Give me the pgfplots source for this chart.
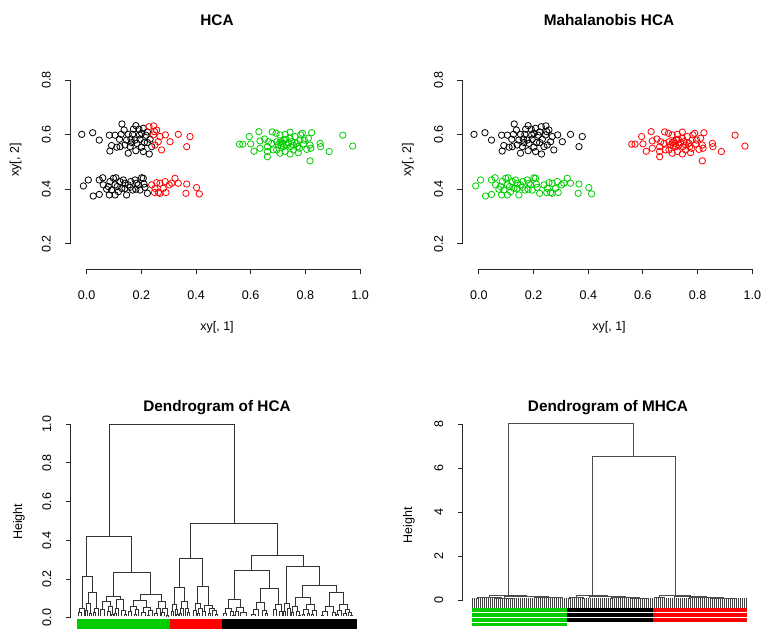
\documentclass[border=0pt]{standalone}
\usepackage{fontspec}
\setmainfont{Liberation Sans}
\usepackage{pgfplots}
\usepackage{pgfplotstable}
\pgfplotsset{compat=1.18}
\definecolor{rgreen}{HTML}{00CD00}
\definecolor{rred}{HTML}{FF0000}

% upper-left group, left part
\pgfplotstableread{
x y
-0.018 0.601
0.022 0.607
0.046 0.580
0.083 0.598
0.104 0.598
0.129 0.639
0.137 0.617
0.152 0.601
0.162 0.584
0.180 0.633
0.191 0.620
0.201 0.605
0.168 0.601
0.177 0.580
0.195 0.583
0.217 0.598
0.222 0.610
0.091 0.560
0.110 0.554
0.122 0.556
0.085 0.540
0.152 0.532
0.180 0.541
0.159 0.556
0.201 0.554
0.207 0.538
0.222 0.571
0.232 0.583
0.229 0.529
0.238 0.556
0.183 0.568
0.146 0.580
0.211 0.571
0.126 0.601
0.140 0.562
0.165 0.571
0.193 0.599
0.120 0.583
0.207 0.623
0.171 0.620
}\ulblack
% upper-left group, right part
\pgfplotstableread{
x y
0.228 0.629
0.245 0.632
0.256 0.617
0.244 0.599
0.268 0.593
0.288 0.599
0.305 0.574
0.335 0.601
0.378 0.593
0.366 0.556
0.274 0.544
0.248 0.611
0.262 0.574
0.250 0.562
}\ulred
% lower-left group, left part
\pgfplotstableread{
x y
0.006 0.434
-0.012 0.412
0.024 0.375
0.046 0.381
0.059 0.442
0.061 0.416
0.079 0.410
0.085 0.428
0.098 0.440
0.107 0.442
0.112 0.410
0.122 0.428
0.134 0.434
0.140 0.403
0.146 0.379
0.152 0.416
0.161 0.428
0.168 0.397
0.177 0.434
0.189 0.416
0.201 0.442
0.207 0.440
0.213 0.407
0.222 0.385
0.083 0.379
0.104 0.379
0.073 0.400
0.091 0.397
0.180 0.400
0.195 0.397
0.128 0.403
0.046 0.434
0.116 0.391
0.159 0.407
0.183 0.422
0.140 0.422
0.104 0.416
0.210 0.419
}\llblack
% lower-left group, right part
\pgfplotstableread{
x y
0.238 0.416
0.250 0.403
0.248 0.388
0.262 0.388
0.268 0.422
0.280 0.403
0.290 0.388
0.287 0.428
0.302 0.416
0.311 0.422
0.323 0.440
0.335 0.422
0.366 0.419
0.363 0.385
0.402 0.406
0.412 0.383
0.268 0.385
0.256 0.424
}\llred
% right group
\pgfplotstableread{
x y
0.559 0.565
0.571 0.565
0.595 0.593
0.600 0.566
0.612 0.539
0.630 0.611
0.634 0.577
0.651 0.584
0.661 0.556
0.661 0.538
0.661 0.519
0.679 0.610
0.693 0.605
0.695 0.574
0.701 0.562
0.707 0.571
0.713 0.574
0.717 0.568
0.722 0.580
0.726 0.601
0.732 0.562
0.738 0.571
0.744 0.609
0.746 0.556
0.750 0.574
0.756 0.562
0.762 0.593
0.771 0.556
0.774 0.534
0.778 0.550
0.783 0.599
0.789 0.605
0.796 0.580
0.805 0.546
0.817 0.562
0.820 0.550
0.823 0.607
0.854 0.568
0.856 0.556
0.817 0.504
0.887 0.538
0.937 0.598
0.973 0.558
0.683 0.544
0.707 0.532
0.744 0.529
0.768 0.568
0.793 0.566
0.720 0.556
0.695 0.544
0.634 0.550
0.665 0.574
0.744 0.587
0.756 0.544
0.780 0.580
0.811 0.587
0.707 0.599
0.726 0.538
0.677 0.568
0.729 0.583
0.711 0.559
}\rightgrp

\pgfplotsset{
  rbase/.style={
    scale only axis, anchor=south west, clip=false,
    axis lines*=left, axis line style={draw=none},
    tick align=outside, major tick length=3.75pt,
    tick style={black!85, line width=0.7pt},
    tick label style={font=\fontsize{9.4}{11}\selectfont},
    xticklabel style={anchor=center, yshift=-15.4pt},
    yticklabel style={anchor=center, xshift=-14.1pt, rotate=90},
  },
  rscat/.style={
    rbase, xmin=-0.061, xmax=1.015, ymin=0.106, ymax=0.908,
    width=220.6pt, height=164.2pt,
    xtick={0,0.2,0.4,0.6,0.8,1}, xticklabels={0.0,0.2,0.4,0.6,0.8,1.0},
    ytick={0.2,0.4,0.6,0.8}, yticklabels={0.2,0.4,0.6,0.8},
  },
  pts/.style={only marks, mark=o, mark size=2.4pt, mark options={line width=0.6pt}},
  stripe/.style={line width=2.6pt, mark=none},
  stripeb/.style={line width=3.1pt, mark=none},
}

\begin{document}
\begin{tikzpicture}
\path[use as bounding box] (0,0) rectangle (570.75pt,472.5pt);

% ---------- Panel 1: HCA ----------
\begin{axis}[rscat, at={(52.5pt,270.375pt)}]
\draw[black!85, line width=0.7pt] (axis cs:0,0.106) -- (axis cs:1,0.106);
\draw[black!85, line width=0.7pt] (axis cs:-0.061,0.2) -- (axis cs:-0.061,0.8);
\addplot[black, pts] table {\ulblack};
\addplot[black, pts] table {\llblack};
\addplot[rred, pts] table {\ulred};
\addplot[rred, pts] table {\llred};
\addplot[rgreen, pts] table {\rightgrp};
\end{axis}

% ---------- Panel 2: Mahalanobis HCA ----------
\begin{axis}[rscat, at={(346.7pt,270.375pt)}]
\draw[black!85, line width=0.7pt] (axis cs:0,0.106) -- (axis cs:1,0.106);
\draw[black!85, line width=0.7pt] (axis cs:-0.061,0.2) -- (axis cs:-0.061,0.8);
\addplot[black, pts] table {\ulblack};
\addplot[black, pts] table {\ulred};
\addplot[rgreen, pts] table {\llblack};
\addplot[rgreen, pts] table {\llred};
\addplot[rred, pts] table {\rightgrp};
\end{axis}

% ---------- Panel 3: Dendrogram of HCA ----------
\begin{axis}[rbase, at={(53.0pt,0pt)}, xmin=32, xmax=930, ymin=-0.0636, ymax=1.04,
  width=224.5pt, height=160.1pt, xtick=\empty,
  ytick={0,0.2,0.4,0.6,0.8,1}, yticklabels={0.0,0.2,0.4,0.6,0.8,1.0}]
\draw[black!85, line width=0.7pt] (axis cs:32,0) -- (axis cs:32,1);
\addplot[rgreen, stripeb] coordinates {(50,-0.0196) (330,-0.0196)};
\addplot[rgreen, stripeb] coordinates {(50,-0.0455) (330,-0.0455)};
\addplot[rred, stripeb] coordinates {(330,-0.0196) (485,-0.0196)};
\addplot[rred, stripeb] coordinates {(330,-0.0455) (485,-0.0455)};
\addplot[black, stripeb] coordinates {(487,-0.0196) (890,-0.0196)};
\addplot[black, stripeb] coordinates {(487,-0.0455) (890,-0.0455)};
\addplot[black!80, line width=0.75pt, mark=none, unbounded coords=jump] coordinates {
(148,0.419)(148,1)(522,1)(522,0.485)(nan,nan)
(80,0.213)(80,0.419)(215,0.419)(215,0.234)(nan,nan)
(67,0.05)(67,0.213)(97,0.213)(97,0.128)(nan,nan)
(60,0.025)(60,0.05)(74,0.05)(74,0.008)(nan,nan)
(55,0.008)(55,0.025)(65,0.025)(65,0.008)(nan,nan)
(85,0.075)(85,0.128)(110,0.128)(110,0.045)(nan,nan)
(80,0.035)(80,0.075)(91,0.075)(91,0.02)(nan,nan)
(76,0.008)(76,0.035)(84,0.035)(84,0.008)(nan,nan)
(88,0.008)(88,0.02)(94,0.02)(94,0.008)(nan,nan)
(104,0.025)(104,0.045)(116,0.045)(116,0.008)(nan,nan)
(100,0.008)(100,0.025)(108,0.025)(108,0.008)(nan,nan)
(160,0.112)(160,0.234)(272,0.234)(272,0.122)(nan,nan)
(140,0.085)(140,0.112)(180,0.112)(180,0.095)(nan,nan)
(128,0.04)(128,0.085)(152,0.085)(152,0.06)(nan,nan)
(123,0.008)(123,0.04)(133,0.04)(133,0.008)(nan,nan)
(146,0.03)(146,0.06)(158,0.06)(158,0.015)(nan,nan)
(142,0.008)(142,0.03)(150,0.03)(150,0.008)(nan,nan)
(155,0.008)(155,0.015)(161,0.015)(161,0.008)(nan,nan)
(170,0.05)(170,0.095)(190,0.095)(190,0.035)(nan,nan)
(165,0.02)(165,0.05)(175,0.05)(175,0.008)(nan,nan)
(162,0.008)(162,0.02)(168,0.02)(168,0.008)(nan,nan)
(185,0.008)(185,0.035)(195,0.035)(195,0.018)(nan,nan)
(192,0.008)(192,0.018)(198,0.018)(198,0.008)(nan,nan)
(240,0.09)(240,0.122)(305,0.122)(305,0.085)(nan,nan)
(220,0.06)(220,0.09)(260,0.09)(260,0.055)(nan,nan)
(210,0.03)(210,0.06)(230,0.06)(230,0.04)(nan,nan)
(205,0.008)(205,0.03)(215,0.03)(215,0.008)(nan,nan)
(225,0.015)(225,0.04)(235,0.04)(235,0.008)(nan,nan)
(222,0.008)(222,0.015)(228,0.015)(228,0.008)(nan,nan)
(250,0.025)(250,0.055)(270,0.055)(270,0.035)(nan,nan)
(245,0.008)(245,0.025)(255,0.025)(255,0.008)(nan,nan)
(264,0.012)(264,0.035)(276,0.035)(276,0.008)(nan,nan)
(261,0.008)(261,0.012)(267,0.012)(267,0.008)(nan,nan)
(295,0.05)(295,0.085)(315,0.085)(315,0.045)(nan,nan)
(288,0.02)(288,0.05)(302,0.05)(302,0.008)(nan,nan)
(284,0.008)(284,0.02)(292,0.02)(292,0.008)(nan,nan)
(308,0.025)(308,0.045)(322,0.045)(322,0.01)(nan,nan)
(304,0.008)(304,0.025)(312,0.025)(312,0.008)(nan,nan)
(319,0.008)(319,0.01)(325,0.01)(325,0.008)(nan,nan)
(392,0.305)(392,0.485)(652,0.485)(652,0.323)(nan,nan)
(358,0.156)(358,0.305)(427,0.305)(427,0.163)(nan,nan)
(343,0.07)(343,0.156)(373,0.156)(373,0.085)(nan,nan)
(337,0.03)(337,0.07)(349,0.07)(349,0.04)(nan,nan)
(333,0.008)(333,0.03)(341,0.03)(341,0.008)(nan,nan)
(345,0.008)(345,0.04)(353,0.04)(353,0.015)(nan,nan)
(350,0.008)(350,0.015)(356,0.015)(356,0.008)(nan,nan)
(365,0.045)(365,0.085)(381,0.085)(381,0.05)(nan,nan)
(361,0.02)(361,0.045)(369,0.045)(369,0.008)(nan,nan)
(358,0.008)(358,0.02)(364,0.02)(364,0.008)(nan,nan)
(376,0.008)(376,0.05)(386,0.05)(386,0.025)(nan,nan)
(383,0.008)(383,0.025)(389,0.025)(389,0.008)(nan,nan)
(413,0.075)(413,0.163)(444,0.163)(444,0.065)(nan,nan)
(405,0.035)(405,0.075)(421,0.075)(421,0.045)(nan,nan)
(400,0.008)(400,0.035)(410,0.035)(410,0.008)(nan,nan)
(416,0.02)(416,0.045)(426,0.045)(426,0.008)(nan,nan)
(413,0.008)(413,0.02)(419,0.02)(419,0.008)(nan,nan)
(432,0.03)(432,0.065)(456,0.065)(456,0.05)(nan,nan)
(427,0.008)(427,0.03)(437,0.03)(437,0.008)(nan,nan)
(448,0.02)(448,0.05)(464,0.05)(464,0.035)(nan,nan)
(444,0.008)(444,0.02)(452,0.02)(452,0.008)(nan,nan)
(458,0.008)(458,0.035)(470,0.035)(470,0.015)(nan,nan)
(467,0.008)(467,0.015)(473,0.015)(473,0.008)(nan,nan)
(575,0.243)(575,0.323)(730,0.323)(730,0.264)(nan,nan)
(523,0.093)(523,0.243)(628,0.243)(628,0.15)(nan,nan)
(505,0.05)(505,0.093)(540,0.093)(540,0.055)(nan,nan)
(495,0.02)(495,0.05)(515,0.05)(515,0.03)(nan,nan)
(491,0.008)(491,0.02)(499,0.02)(499,0.008)(nan,nan)
(510,0.008)(510,0.03)(520,0.03)(520,0.012)(nan,nan)
(517,0.008)(517,0.012)(523,0.012)(523,0.008)(nan,nan)
(530,0.03)(530,0.055)(550,0.055)(550,0.025)(nan,nan)
(526,0.008)(526,0.03)(534,0.03)(534,0.008)(nan,nan)
(542,0.008)(542,0.025)(558,0.025)(558,0.008)(nan,nan)
(601,0.08)(601,0.15)(655,0.15)(655,0.07)(nan,nan)
(588,0.04)(588,0.08)(614,0.08)(614,0.035)(nan,nan)
(580,0.015)(580,0.04)(596,0.04)(596,0.008)(nan,nan)
(573,0.008)(573,0.015)(587,0.015)(587,0.008)(nan,nan)
(608,0.008)(608,0.035)(620,0.035)(620,0.02)(nan,nan)
(617,0.008)(617,0.02)(623,0.02)(623,0.008)(nan,nan)
(645,0.04)(645,0.07)(663,0.07)(663,0.03)(nan,nan)
(640,0.008)(640,0.04)(650,0.04)(650,0.008)(nan,nan)
(659,0.008)(659,0.03)(667,0.03)(667,0.008)(nan,nan)
(680,0.074)(680,0.264)(778,0.264)(778,0.166)(nan,nan)
(673,0.03)(673,0.074)(687,0.074)(687,0.045)(nan,nan)
(670,0.008)(670,0.03)(676,0.03)(676,0.008)(nan,nan)
(683,0.008)(683,0.045)(691,0.045)(691,0.008)(nan,nan)
(727,0.105)(727,0.166)(828,0.166)(828,0.132)(nan,nan)
(705,0.06)(705,0.105)(751,0.105)(751,0.07)(nan,nan)
(697,0.025)(697,0.06)(713,0.06)(713,0.03)(nan,nan)
(694,0.008)(694,0.025)(700,0.025)(700,0.008)(nan,nan)
(708,0.008)(708,0.03)(718,0.03)(718,0.012)(nan,nan)
(715,0.008)(715,0.012)(721,0.012)(721,0.008)(nan,nan)
(738,0.04)(738,0.07)(764,0.07)(764,0.035)(nan,nan)
(731,0.015)(731,0.04)(745,0.04)(745,0.02)(nan,nan)
(728,0.008)(728,0.015)(734,0.015)(734,0.008)(nan,nan)
(742,0.008)(742,0.02)(748,0.02)(748,0.008)(nan,nan)
(758,0.015)(758,0.035)(770,0.035)(770,0.008)(nan,nan)
(755,0.008)(755,0.015)(761,0.015)(761,0.008)(nan,nan)
(808,0.06)(808,0.132)(850,0.132)(850,0.07)(nan,nan)
(795,0.03)(795,0.06)(821,0.06)(821,0.025)(nan,nan)
(788,0.012)(788,0.03)(802,0.03)(802,0.008)(nan,nan)
(785,0.008)(785,0.012)(791,0.012)(791,0.008)(nan,nan)
(816,0.008)(816,0.025)(826,0.025)(826,0.008)(nan,nan)
(838,0.035)(838,0.07)(862,0.07)(862,0.04)(nan,nan)
(832,0.015)(832,0.035)(844,0.035)(844,0.008)(nan,nan)
(829,0.008)(829,0.015)(835,0.015)(835,0.008)(nan,nan)
(855,0.02)(855,0.04)(869,0.04)(869,0.025)(nan,nan)
(851,0.008)(851,0.02)(859,0.02)(859,0.008)(nan,nan)
(864,0.008)(864,0.025)(874,0.025)(874,0.012)(nan,nan)
(871,0.008)(871,0.012)(877,0.012)(877,0.008)
};
\end{axis}

% ---------- Panel 4: Dendrogram of MHCA ----------
\begin{axis}[rbase, at={(347.0pt,0pt)}, xmin=462.7, xmax=761, ymin=-1.364, ymax=8.3,
  width=223.7pt, height=159.45pt, xtick=\empty,
  ytick={0,2,4,6,8}, yticklabels={0,2,4,6,8}]
\draw[black!85, line width=0.7pt] (axis cs:462.7,0) -- (axis cs:462.7,8);
\addplot[black!75, line width=7.4pt, dash pattern=on 0.9pt off 0.6pt, mark=none] coordinates {(472,-0.125) (747,-0.125)};
\addplot[rgreen, stripe] coordinates {(472,-0.45) (567,-0.45)};
\addplot[rgreen, stripe] coordinates {(472,-0.68) (567,-0.68)};
\addplot[rgreen, stripe] coordinates {(472,-0.91) (567,-0.91)};
\addplot[rgreen, stripe] coordinates {(472,-1.12) (567,-1.12)};
\addplot[black, stripe] coordinates {(567,-0.45) (653,-0.45)};
\addplot[black, stripe] coordinates {(567,-0.68) (653,-0.68)};
\addplot[black, stripe] coordinates {(567,-0.91) (653,-0.91)};
\addplot[rred, stripe] coordinates {(653,-0.45) (747,-0.45)};
\addplot[rred, stripe] coordinates {(653,-0.68) (747,-0.68)};
\addplot[rred, stripe] coordinates {(653,-0.91) (747,-0.91)};
\addplot[black!70, line width=0.75pt, mark=none, unbounded coords=jump] coordinates {
(508.3,0.2)(508.3,8)(634,8)(634,6.51)(nan,nan)
(592.7,0.2)(592.7,6.51)(675.3,6.51)(675.3,0.2)(nan,nan)
(490,0.1)(490,0.2)(527,0.2)(527,0.15)(nan,nan)
(478,0.06)(478,0.1)(502,0.1)(502,0.08)(nan,nan)
(505,0.08)(505,0.15)(549,0.15)(549,0.1)(nan,nan)
(535,0.06)(535,0.1)(563,0.1)(563,0.07)(nan,nan)
(495,0.04)(495,0.08)(515,0.08)(515,0.05)(nan,nan)
(577,0.1)(577,0.2)(608,0.2)(608,0.15)(nan,nan)
(570,0.06)(570,0.1)(584,0.1)(584,0.07)(nan,nan)
(590,0.08)(590,0.15)(626,0.15)(626,0.1)(nan,nan)
(612,0.06)(612,0.1)(640,0.1)(640,0.08)(nan,nan)
(632,0.05)(632,0.08)(648,0.08)(648,0.06)(nan,nan)
(660,0.1)(660,0.2)(691,0.2)(691,0.15)(nan,nan)
(655,0.06)(655,0.1)(665,0.1)(665,0.07)(nan,nan)
(675,0.08)(675,0.15)(707,0.15)(707,0.1)(nan,nan)
(690,0.06)(690,0.1)(724,0.1)(724,0.08)(nan,nan)
(712,0.05)(712,0.08)(736,0.08)(736,0.06)
};
\end{axis}

% ---------- titles and axis labels ----------
\begin{scope}[every node/.style={font=\fontsize{9.4}{11}\selectfont}]
\node[font=\fontsize{11.5}{14}\selectfont\bfseries] at (162.75pt,457.5pt) {HCA};
\node[font=\fontsize{11.5}{14}\selectfont\bfseries] at (456.75pt,457.5pt) {Mahalanobis HCA};
\node[font=\fontsize{11.5}{14}\selectfont\bfseries] at (162.75pt,166.5pt) {Dendrogram of HCA};
\node[font=\fontsize{11.5}{14}\selectfont\bfseries] at (456.0pt,166.5pt) {Dendrogram of MHCA};
\node at (162.75pt,227.25pt) {xy[, 1]};
\node at (456.75pt,227.25pt) {xy[, 1]};
\node[rotate=90] at (11.8pt,352.5pt) {xy[, 2]};
\node[rotate=90] at (306.0pt,352.5pt) {xy[, 2]};
\node[rotate=90] at (14.25pt,81.2pt) {Height};
\node[rotate=90] at (306.75pt,78.75pt) {Height};
\end{scope}
\end{tikzpicture}
\end{document}
